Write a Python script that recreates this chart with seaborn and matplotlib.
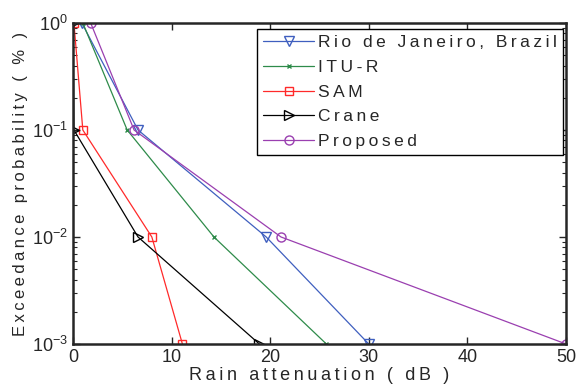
import matplotlib
matplotlib.use("Agg")
import matplotlib.pyplot as plt
import seaborn as sns
import pandas as pd
import numpy as np

sns.set_style("ticks")
plt.rcParams['font.family'] = ['Liberation Sans', 'DejaVu Sans']
plt.rcParams['mathtext.fontset'] = 'custom'
plt.rcParams['mathtext.rm'] = 'Liberation Sans'
plt.rcParams['mathtext.it'] = 'Liberation Sans'

prob = [1, 0.1, 0.01, 0.001]
rio = [0.9, 6.6, 19.6, 30.0]
itu = [1.0, 5.5, 14.3, 25.7]
sam = [0.1, 1.0, 8.0, 11.1]
crane = [0.0, 0.1, 6.6, 18.9]
proposed = [1.8, 6.2, 21.1, 50.0]

series_names = ["Rio de Janeiro, Brazil", "ITU-R", "SAM", "Crane", "Proposed"]
series_vals = [rio, itu, sam, crane, proposed]
colors = ["#3f5fbf", "#2e8b4a", "#ff2a2a", "#000000", "#9a3fb0"]
markers = ["v", "x", "s", ">", "o"]
msizes = [6.5, 3.5, 5.5, 6.5, 6.5]

def spaced(s):
    return "\u2009".join(list(s))

fig = plt.figure(figsize=(5.79, 3.90), dpi=100)
ax = fig.add_axes([0.126, 0.118, 0.9775 - 0.126, 0.941 - 0.118])

for name, vals, c, m, ms in zip(series_names, series_vals, colors, markers, msizes):
    df = pd.DataFrame({"x": vals, "y": prob})
    sns.lineplot(data=df, x="x", y="y", ax=ax, color=c, marker=m, markersize=ms,
                 markerfacecolor="none", markeredgecolor=c, markeredgewidth=1.0,
                 linewidth=0.9, sort=False, estimator=None, label=spaced(name))

ax.set_yscale("log")
ax.set_xlim(0, 50)
ax.set_ylim(1e-3, 1)
ax.set_xticks([0, 10, 20, 30, 40, 50])
ax.tick_params(axis="both", which="both", direction="in", top=True, right=True,
               labelsize=13)
ax.tick_params(which="major", length=5, width=1)
ax.tick_params(which="minor", length=3, width=0.8)
for sp in ax.spines.values():
    sp.set_linewidth(1.8)
ax.set_xlabel(spaced("Rain attenuation ( dB )"), fontsize=13, labelpad=1)
ax.set_ylabel(spaced("Exceedance probability ( % )"), fontsize=12, labelpad=3)

leg = ax.legend(loc="upper right", bbox_to_anchor=(0.994, 0.981), fontsize=12.5,
                frameon=True, fancybox=False, edgecolor="black", framealpha=1,
                handlelength=2.9, borderpad=0.35, labelspacing=0.55, handletextpad=0.25,
                borderaxespad=0)
leg.get_frame().set_linewidth(1.0)

fig.savefig("out.png", dpi=100)
